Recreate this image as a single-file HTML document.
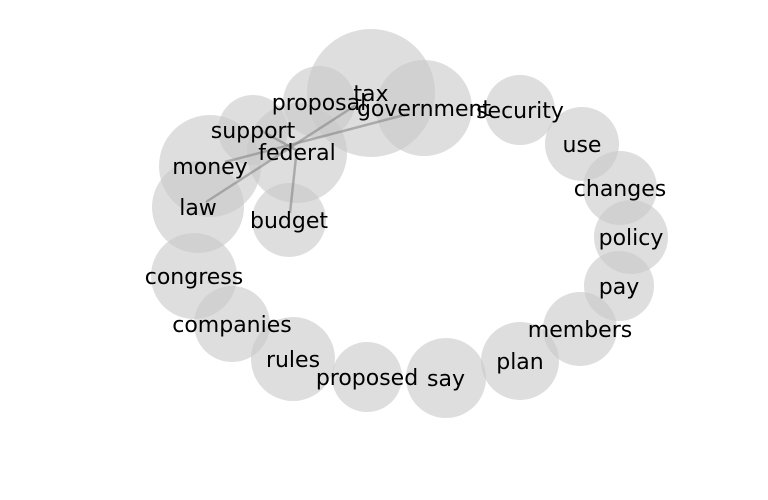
<!DOCTYPE html>
<html><head><style>body{margin:0;background:#fff}svg{display:block}</style></head><body>
<svg width="768" height="500" xmlns="http://www.w3.org/2000/svg" font-family="DejaVu Sans, sans-serif" font-size="22">
<g fill="#c8c8c8" fill-opacity="0.6">
<circle cx="371" cy="93" r="64"/>
<circle cx="424" cy="108" r="48"/>
<circle cx="319" cy="102" r="36"/>
<circle cx="253" cy="130" r="35"/>
<circle cx="297" cy="153" r="50"/>
<circle cx="210" cy="166" r="51"/>
<circle cx="198" cy="207" r="46"/>
<circle cx="289" cy="220" r="37"/>
<circle cx="520" cy="110" r="35"/>
<circle cx="582" cy="144" r="37"/>
<circle cx="620" cy="188" r="37"/>
<circle cx="631" cy="237" r="37"/>
<circle cx="619" cy="286" r="35"/>
<circle cx="580" cy="329" r="37"/>
<circle cx="520" cy="361" r="39"/>
<circle cx="446" cy="378" r="40"/>
<circle cx="367" cy="377" r="35"/>
<circle cx="293" cy="359" r="42"/>
<circle cx="232" cy="324" r="38"/>
<circle cx="194" cy="276" r="43"/>
</g>
<g stroke="#808080" stroke-opacity="0.55" stroke-width="2.5">
<line x1="356" y1="105" x2="206" y2="202"/>
<line x1="408" y1="114" x2="225" y2="162"/>
<line x1="296" y1="157" x2="290" y2="213"/>
<line x1="260" y1="130" x2="296" y2="150"/>
</g>
<g fill="#000" text-anchor="middle">
<text x="371" y="101">tax</text>
<text x="424" y="116">government</text>
<text x="319" y="110">proposal</text>
<text x="253" y="138">support</text>
<text x="297" y="160">federal</text>
<text x="210" y="174">money</text>
<text x="198" y="215">law</text>
<text x="289" y="228">budget</text>
<text x="520" y="118">security</text>
<text x="582" y="152">use</text>
<text x="620" y="196">changes</text>
<text x="631" y="245">policy</text>
<text x="619" y="294">pay</text>
<text x="580" y="337">members</text>
<text x="520" y="369">plan</text>
<text x="446" y="386">say</text>
<text x="367" y="385">proposed</text>
<text x="293" y="367">rules</text>
<text x="232" y="332">companies</text>
<text x="194" y="284">congress</text>
</g>
</svg>
</body></html>
